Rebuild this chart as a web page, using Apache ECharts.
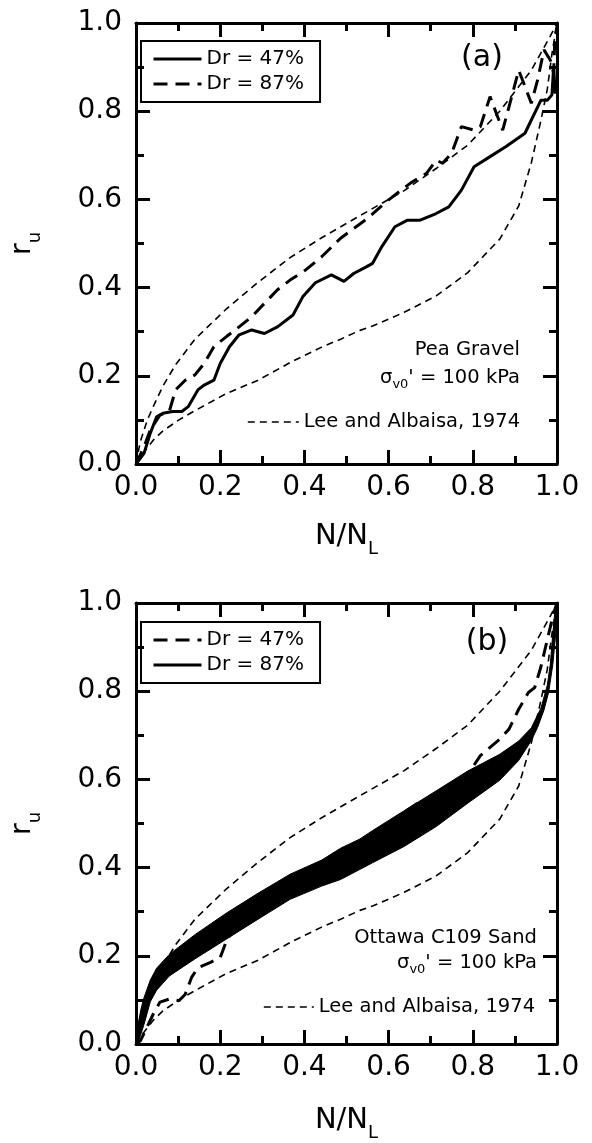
<!DOCTYPE html>
<html>
<head>
<meta charset="utf-8">
<script src="https://cdn.jsdelivr.net/npm/echarts@6/dist/echarts.min.js"></script>
<style>
html,body{margin:0;padding:0;background:#fff;}
#chart{width:592px;height:1143px;}
</style>
</head>
<body>
<div id="chart"></div>
<script>
// ---------- data ----------
const xTickLabels = ['0.0','0.2','0.4','0.6','0.8','1.0'];
const yTickLabels = ['0.0','0.2','0.4','0.6','0.8','1.0'];

// Lee and Albaisa (1974) band, upper and lower bounds
const leeUpper = [[0,0],[0.01,0.05],[0.027,0.10],[0.041,0.13],[0.064,0.177],[0.094,0.225],[0.14,0.283],[0.215,0.352],[0.29,0.412],[0.366,0.468],[0.441,0.513],[0.532,0.563],[0.637,0.62],[0.713,0.67],[0.788,0.723],[0.864,0.80],[0.939,0.893],[0.984,0.97],[1.0,1.0]];
const leeLower = [[0,0],[0.011,0.017],[0.041,0.054],[0.064,0.075],[0.102,0.10],[0.14,0.121],[0.215,0.16],[0.29,0.19],[0.366,0.23],[0.441,0.265],[0.486,0.283],[0.532,0.303],[0.562,0.313],[0.637,0.344],[0.713,0.381],[0.788,0.434],[0.864,0.51],[0.909,0.585],[0.939,0.683],[0.962,0.78],[0.977,0.85],[0.988,0.93],[1.0,1.0]];

// (a) Pea Gravel
const gravelDr47 = [[0,0],[0.019,0.024],[0.034,0.07],[0.049,0.107],[0.064,0.115],[0.087,0.119],[0.109,0.119],[0.124,0.13],[0.147,0.168],[0.162,0.179],[0.185,0.19],[0.2,0.228],[0.222,0.266],[0.245,0.293],[0.275,0.304],[0.305,0.296],[0.336,0.311],[0.373,0.338],[0.396,0.379],[0.426,0.411],[0.464,0.429],[0.494,0.414],[0.517,0.432],[0.547,0.447],[0.562,0.455],[0.584,0.493],[0.615,0.538],[0.645,0.553],[0.675,0.553],[0.713,0.568],[0.743,0.583],[0.773,0.621],[0.803,0.674],[0.841,0.697],[0.879,0.72],[0.924,0.75],[0.939,0.78],[0.962,0.825],[0.977,0.825],[0.988,0.837],[0.992,0.9],[0.996,0.84],[1.0,0.86]];
const gravelDr87 = [[0,0],[0.019,0.039],[0.034,0.077],[0.057,0.111],[0.079,0.119],[0.094,0.168],[0.117,0.19],[0.14,0.202],[0.162,0.228],[0.185,0.266],[0.215,0.289],[0.245,0.311],[0.275,0.334],[0.305,0.364],[0.336,0.395],[0.366,0.417],[0.403,0.44],[0.441,0.47],[0.486,0.512],[0.547,0.555],[0.6,0.599],[0.652,0.637],[0.69,0.659],[0.713,0.689],[0.728,0.682],[0.75,0.705],[0.773,0.765],[0.803,0.757],[0.818,0.765],[0.841,0.833],[0.856,0.795],[0.871,0.757],[0.886,0.81],[0.909,0.893],[0.924,0.856],[0.939,0.818],[0.954,0.871],[0.969,0.939],[0.984,0.916],[0.992,0.886],[0.995,0.969],[1.0,0.99]];

// (b) Ottawa C109 Sand
const sandDr47 = [[0,0],[0.011,0.008],[0.026,0.038],[0.041,0.068],[0.057,0.095],[0.079,0.102],[0.102,0.098],[0.117,0.113],[0.132,0.151],[0.147,0.173],[0.177,0.185],[0.2,0.196],[0.215,0.234],[0.23,0.256],[0.29,0.33],[0.366,0.375],[0.441,0.41],[0.532,0.455],[0.59,0.49],[0.615,0.511],[0.667,0.545],[0.698,0.541],[0.743,0.564],[0.781,0.601],[0.818,0.654],[0.864,0.691],[0.886,0.714],[0.909,0.759],[0.932,0.797],[0.947,0.808],[0.962,0.856],[0.977,0.917],[0.992,0.977],[1.0,1.0]];
// Dr = 87%: cyclic record drawn as an envelope band
const sandDr87Upper = [[0,0],[0.004,0.04],[0.012,0.08],[0.019,0.105],[0.034,0.145],[0.049,0.172],[0.079,0.203],[0.14,0.248],[0.215,0.297],[0.29,0.342],[0.366,0.385],[0.441,0.417],[0.486,0.444],[0.532,0.465],[0.562,0.484],[0.637,0.529],[0.713,0.574],[0.788,0.619],[0.864,0.657],[0.909,0.687],[0.939,0.717],[0.962,0.762],[0.977,0.814],[0.984,0.86],[0.99,0.93],[0.995,0.98],[1.0,1.0]];
const sandDr87Lower = [[0,0],[0.006,0.006],[0.019,0.044],[0.034,0.096],[0.049,0.122],[0.079,0.154],[0.14,0.193],[0.215,0.238],[0.29,0.283],[0.366,0.328],[0.441,0.358],[0.486,0.373],[0.532,0.396],[0.562,0.411],[0.637,0.448],[0.713,0.493],[0.788,0.546],[0.864,0.598],[0.909,0.643],[0.939,0.688],[0.954,0.718],[0.969,0.757],[0.98,0.797],[0.99,0.86],[0.997,0.93],[1.0,1.0]];

const legendNames = {a47:'Dr = 47%', a87:'Dr = 87%', b47:'Dr = 47%', b87:'Dr = 87%', leeA:'Lee and Albaisa, 1974', leeB:'Lee and Albaisa, 1974'};

// ---------- chart ----------
const FONT = 'DejaVu Sans';
const chart = echarts.init(document.getElementById('chart'), null, {renderer:'canvas'});

function xAxis(gridIndex, top, gap){
  return {
    type:'value', gridIndex:gridIndex, min:0, max:1, interval:0.2,
    position: top ? 'top' : 'bottom',
    axisLine:{show:true, onZero:false, lineStyle:{color:'#000', width:3}},
    axisTick:{show:true, inside:true, length:14, lineStyle:{color:'#000', width:3}},
    minorTick:{show:true, splitNumber:2, length:8, lineStyle:{color:'#000', width:3}},
    splitLine:{show:false},
    axisLabel: top ? {show:false} : {show:true, fontFamily:FONT, fontSize:28, color:'#000', margin:10,
      formatter:(v,i)=>xTickLabels[i]},
    name: top ? '' : '{n|N/N}{s|L}',
    nameLocation:'middle', nameGap:gap || 58,
    nameTextStyle:{rich:{
      n:{fontFamily:FONT, fontSize:29, color:'#000', lineHeight:30, verticalAlign:'top'},
      s:{fontFamily:FONT, fontSize:18, color:'#000', lineHeight:54}
    }}
  };
}
function yAxis(gridIndex, right){
  return {
    type:'value', gridIndex:gridIndex, min:0, max:1, interval:0.2,
    position: right ? 'right' : 'left',
    axisLine:{show:true, onZero:false, lineStyle:{color:'#000', width:3}},
    axisTick:{show:true, inside:true, length:14, lineStyle:{color:'#000', width:3}},
    minorTick:{show:true, splitNumber:2, length:8, lineStyle:{color:'#000', width:3}},
    splitLine:{show:false},
    axisLabel: right ? {show:false} : {show:true, fontFamily:FONT, fontSize:28, color:'#000', margin:14,
      formatter:(v,i)=>yTickLabels[i]},
    name: right ? '' : '{r|r}{u|u}',
    nameLocation:'middle', nameGap:74, nameRotate:90,
    nameTextStyle:{rich:{
      r:{fontFamily:FONT, fontSize:29, color:'#000', lineHeight:30, verticalAlign:'top'},
      u:{fontFamily:FONT, fontSize:18, color:'#000', lineHeight:54}
    }}
  };
}

const LEE_STYLE = {color:'#000', width:1.6, type:[7,5]};
const THICK_DASH = {color:'#000', width:3, type:[14,8]};
const SOLID = {color:'#000', width:3, type:'solid'};

function lineSeries(name, data, xi, style, z){
  return {name:name, type:'line', data:data, xAxisIndex:xi, yAxisIndex:xi,
    showSymbol:false, symbol:'none', lineStyle:style, itemStyle:{color:'#000'},
    clip:true, z:z||2, silent:true, animation:false};
}

const sigmaRich = {
  m:{fontFamily:FONT, fontSize:19.5, color:'#000', lineHeight:22, verticalAlign:'top'},
  s:{fontFamily:FONT, fontSize:13, color:'#000', lineHeight:34}
};
const HIDE_SYMBOL = {opacity:0};
const legendText = {fontFamily:FONT, fontSize:20, color:'#000'};
const noteText = {fontFamily:FONT, fontSize:19.5, color:'#000'};

const option = {
  animation:false,
  backgroundColor:'#fff',
  color:['#000'],
  grid:[
    {left:115, top:23, width:442, height:441},
    {left:115, top:603, width:442, height:444}
  ],
  xAxis:[xAxis(0,false,58), xAxis(0,true), xAxis(1,false,62), xAxis(1,true)],
  yAxis:[yAxis(0,false), yAxis(0,true), yAxis(1,false), yAxis(1,true)],
  legend:[
    {data:['a47','a87'], orient:'vertical', left:141, top:41, itemWidth:48, itemHeight:14, itemGap:5,
     padding:[8,16,8,11], borderColor:'#000', borderWidth:2, selectedMode:false, itemStyle:HIDE_SYMBOL,
     lineStyle:{width:3}, textStyle:legendText, formatter:n=>legendNames[n]},
    {data:['b47',{name:'b87', icon:'path://M0 0H48V3H0Z', itemStyle:{opacity:1, color:'#000'}}], orient:'vertical', left:141, top:622, itemWidth:48, itemHeight:14, itemGap:5,
     padding:[8,16,8,11], borderColor:'#000', borderWidth:2, selectedMode:false, itemStyle:HIDE_SYMBOL,
     lineStyle:{width:3}, textStyle:legendText, formatter:n=>legendNames[n]},
    {data:['leeA'], left:247, top:412, itemWidth:51, itemHeight:14, padding:0, selectedMode:false, itemStyle:HIDE_SYMBOL,
     lineStyle:{width:1.6}, textStyle:noteText, formatter:n=>legendNames[n]},
    {data:['leeB'], left:263, top:997, itemWidth:50, itemHeight:14, padding:0, selectedMode:false, itemStyle:HIDE_SYMBOL,
     lineStyle:{width:1.6}, textStyle:noteText, formatter:n=>legendNames[n]}
  ],
  series:[
    lineSeries('leeA', leeUpper, 0, LEE_STYLE),
    lineSeries('leeA_low', leeLower, 0, LEE_STYLE),
    lineSeries('a87', gravelDr87, 0, THICK_DASH, 3),
    lineSeries('a47', gravelDr47, 0, SOLID, 4),
    lineSeries('leeB', leeUpper, 2, LEE_STYLE),
    lineSeries('leeB_low', leeLower, 2, LEE_STYLE),
    lineSeries('b47', sandDr47, 2, THICK_DASH, 3),
    {
      name:'b87', type:'custom', coordinateSystem:'cartesian2d', xAxisIndex:2, yAxisIndex:2,
      data:[[0.5,0.5]], encode:{x:0,y:1}, z:4, silent:true, animation:false,
      itemStyle:{color:'#000'},
      renderItem:function(params, api){
        const pts = sandDr87Upper.map(p=>api.coord(p))
          .concat(sandDr87Lower.slice().reverse().map(p=>api.coord(p)));
        return {type:'polygon', shape:{points:pts}, style:{fill:'#000', stroke:'#000', lineWidth:1}};
      }
    }
  ],
  graphic:[
    {type:'text', x:482, y:58, style:{text:'(a)', font:'30px "DejaVu Sans"', fill:'#000', textAlign:'center', textVerticalAlign:'middle'}},
    {type:'text', x:520, y:350, style:{text:'Pea Gravel', font:'19.5px "DejaVu Sans"', fill:'#000', textAlign:'right', textVerticalAlign:'middle'}},
    {type:'text', x:520, y:385, style:{text:'{m|σ}{s|v0}{m|\' = 100 kPa}', rich:sigmaRich, textAlign:'right', textVerticalAlign:'middle'}},
    {type:'text', x:487, y:642, style:{text:'(b)', font:'30px "DejaVu Sans"', fill:'#000', textAlign:'center', textVerticalAlign:'middle'}},
    {type:'text', x:537, y:938, style:{text:'Ottawa C109 Sand', font:'19.5px "DejaVu Sans"', fill:'#000', textAlign:'right', textVerticalAlign:'middle'}},
    {type:'text', x:537, y:970, style:{text:'{m|σ}{s|v0}{m|\' = 100 kPa}', rich:sigmaRich, textAlign:'right', textVerticalAlign:'middle'}}
  ]
};
chart.setOption(option);
</script>
</body>
</html>
